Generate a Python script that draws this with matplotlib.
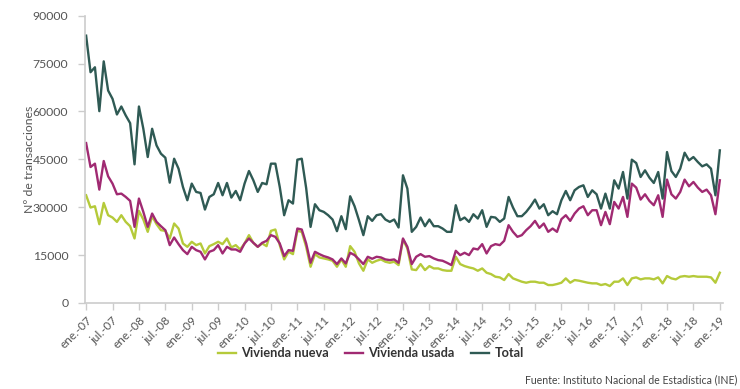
import matplotlib.pyplot as plt

# monthly data, ene-07 .. ene-19 (145 months)
vivienda_nueva = [
    33750, 29900, 30310, 24690, 31350, 27500, 26770, 25410, 27500, 25410, 24060, 20210,
    28850, 26150, 22290, 27190, 24690, 22810, 22600, 20210, 24900, 23330, 18650, 17600,
    19170, 18125, 18650, 15520, 17810, 18440, 19170, 18440, 20210, 17400, 18125, 16770,
    18650, 21250, 18850, 17600, 18650, 17810, 22600, 23020, 18125, 13650, 16040, 15310,
    22600, 22290, 17600, 11350, 15310, 14270, 13960, 13650, 13230, 11350, 13650, 11350,
    17810, 16040, 12400, 10100, 13650, 12600, 13230, 13650, 12920, 12600, 12920, 11875,
    19900, 17080, 10520, 10310, 12190, 10310, 11560, 10830, 10830, 10310, 10100, 10100,
    14480, 12190, 11560, 11150, 10830, 10100, 10830, 9480, 9060, 8230, 8020, 7190,
    9060, 7710, 7190, 6670, 6350, 6670, 6670, 6350, 6350, 5625, 5625, 5940,
    6350, 7710, 6350, 7190, 6980, 6670, 6350, 6150, 6150, 5625, 5940, 5310,
    6670, 6670, 7710, 5625, 7710, 8020, 7400, 7710, 7710, 7400, 8020, 6150,
    8440, 7710, 7400, 8230, 8440, 8230, 8440, 8230, 8230, 8230, 8020, 6350,
    9480,
]
vivienda_usada = [
    50100, 42600, 43650, 35520, 44480, 39690, 37400, 34060, 34270, 33230, 31980, 23850,
    32710, 28540, 23850, 28020, 25410, 24060, 22810, 18125, 20520, 18440, 16560, 15310,
    17600, 16560, 16040, 13650, 16040, 16560, 18125, 15520, 17600, 16770, 16770, 16040,
    18650, 20210, 18850, 17600, 18850, 19480, 21250, 20730, 18650, 14690, 16560, 16350,
    23330, 23020, 18650, 12600, 16040, 15310, 14690, 14270, 13650, 12190, 13960, 12400,
    15730, 15000, 13650, 12190, 14480, 13850, 14480, 14270, 13650, 13440, 13650, 12600,
    20210, 17600, 12190, 14480, 15310, 14480, 14690, 13960, 13440, 13230, 12600, 11875,
    16350, 15000, 15730, 15000, 17080, 16770, 18440, 15520, 17810, 18440, 18125, 19480,
    24375, 22290, 20730, 21250, 22810, 24060, 25730, 23540, 24900, 22290, 23330, 22290,
    26250, 27500, 25730, 28020, 29580, 30310, 27500, 29060, 29060, 24375, 28540, 24690,
    31670, 29580, 33230, 26980, 37400, 36150, 32400, 34060, 31980, 30625, 33750, 26980,
    38650, 34060, 32710, 34790, 38650, 36560, 37920, 36150, 34790, 35520, 33750, 27810,
    38440,
]
total = [
    83750, 72300, 73850, 60100, 75700, 66560, 63960, 59060, 61560, 58750, 56350, 43440,
    61560, 54580, 45730, 54580, 49370, 46770, 45520, 37700, 45200, 42080, 36350, 32190,
    37400, 34800, 34470, 29270, 33220, 34060, 37600, 33750, 37600, 33020, 35100, 32190,
    37400, 41350, 38440, 34800, 37600, 37190, 43650, 43650, 36350, 27500, 32190, 31150,
    44900, 45200, 36000, 23840, 30940, 29060, 28540, 27500, 26150, 22500, 27190, 23130,
    33440, 30310, 25940, 21250, 27190, 25720, 27500, 27810, 26150, 25410, 26150, 23650,
    40000, 35840, 22290, 23850, 26770, 24060, 26150, 24060, 24060, 23330, 22290, 22290,
    30625, 25940, 26770, 25410, 27810, 26460, 29060, 23850, 26980, 26770, 25410, 26460,
    33220, 29900, 27190, 27190, 28540, 30310, 32400, 29580, 30940, 27500, 28750, 27810,
    32190, 35100, 32190, 35310, 36350, 36875, 33220, 35310, 34060, 29580, 34270, 29580,
    38440, 35840, 41040, 32710, 44900, 43850, 39480, 41560, 39270, 37600, 41040, 32710,
    47290, 41350, 39480, 42080, 47080, 44690, 45730, 44170, 42810, 43440, 42080, 33750,
    47810,
]

tick_labels = [
    "ene.-07", "jul.-07", "ene.-08", "jul.-08", "ene.-09", "jul.-09", "ene.-10",
    "jul.-10", "ene.-11", "jul.-11", "ene.-12", "jul.-12", "ene.-13", "jul.-13",
    "ene.-14", "jul.-14", "ene.-15", "jul.-15", "ene.-16", "jul.-16", "ene.-17",
    "jul.-17", "ene.-18", "jul.-18", "ene.-19",
]
y_ticks = [0, 15000, 30000, 45000, 60000, 75000, 90000]

plt.rcParams['font.family'] = ['Lato', 'DejaVu Sans']

fig = plt.figure(figsize=(7.4, 3.89), dpi=100)
ax = fig.add_axes([0.1149, 0.2211, 0.862, 0.7385])

months = list(range(len(total)))
ax.plot(months, vivienda_nueva, color="#b5ca3a", lw=1.7, label="Vivienda nueva")
ax.plot(months, vivienda_usada, color="#a02a72", lw=1.7, label="Vivienda usada")
ax.plot(months, total, color="#2f5a54", lw=1.7, label="Total")

ax.set_xlim(-0.25, 144.7)
ax.set_ylim(0, 90000)
ax.set_yticks(y_ticks)
ax.set_yticklabels([str(v) for v in y_ticks])
ax.set_xticks(range(0, len(total), 6))
ax.set_xticklabels(tick_labels, rotation=45, ha="right", rotation_mode="anchor")

ax.tick_params(axis="y", colors="#cccccc", labelcolor="#555555", labelsize=8.8, length=5, width=1, pad=7)
ax.tick_params(axis="x", colors="#cccccc", labelcolor="#555555", labelsize=8.5, length=5, width=1)
for s in ["top", "right"]:
    ax.spines[s].set_visible(False)
for s in ["left", "bottom"]:
    ax.spines[s].set_color("#cccccc")
    ax.spines[s].set_linewidth(1.2)

ax.set_ylabel("Nº de transacciones", color="#555555", fontsize=8.8)
ax.yaxis.set_label_coords(-0.078, 0.5)

leg = fig.legend(loc="center", bbox_to_anchor=(0.501, 0.0925), ncol=3, frameon=False,
                 handlelength=1.4, columnspacing=1.3, handletextpad=0.4,
                 prop={"weight": "bold", "size": 9.2})
for t in leg.get_texts():
    t.set_color("#333333")

fig.text(0.997, 0.023, "Fuente: Instituto Nacional de Estadística (INE)", ha="right",
         va="center", fontsize=7.6, color="#444444")

fig.savefig("out.png", dpi=100)
